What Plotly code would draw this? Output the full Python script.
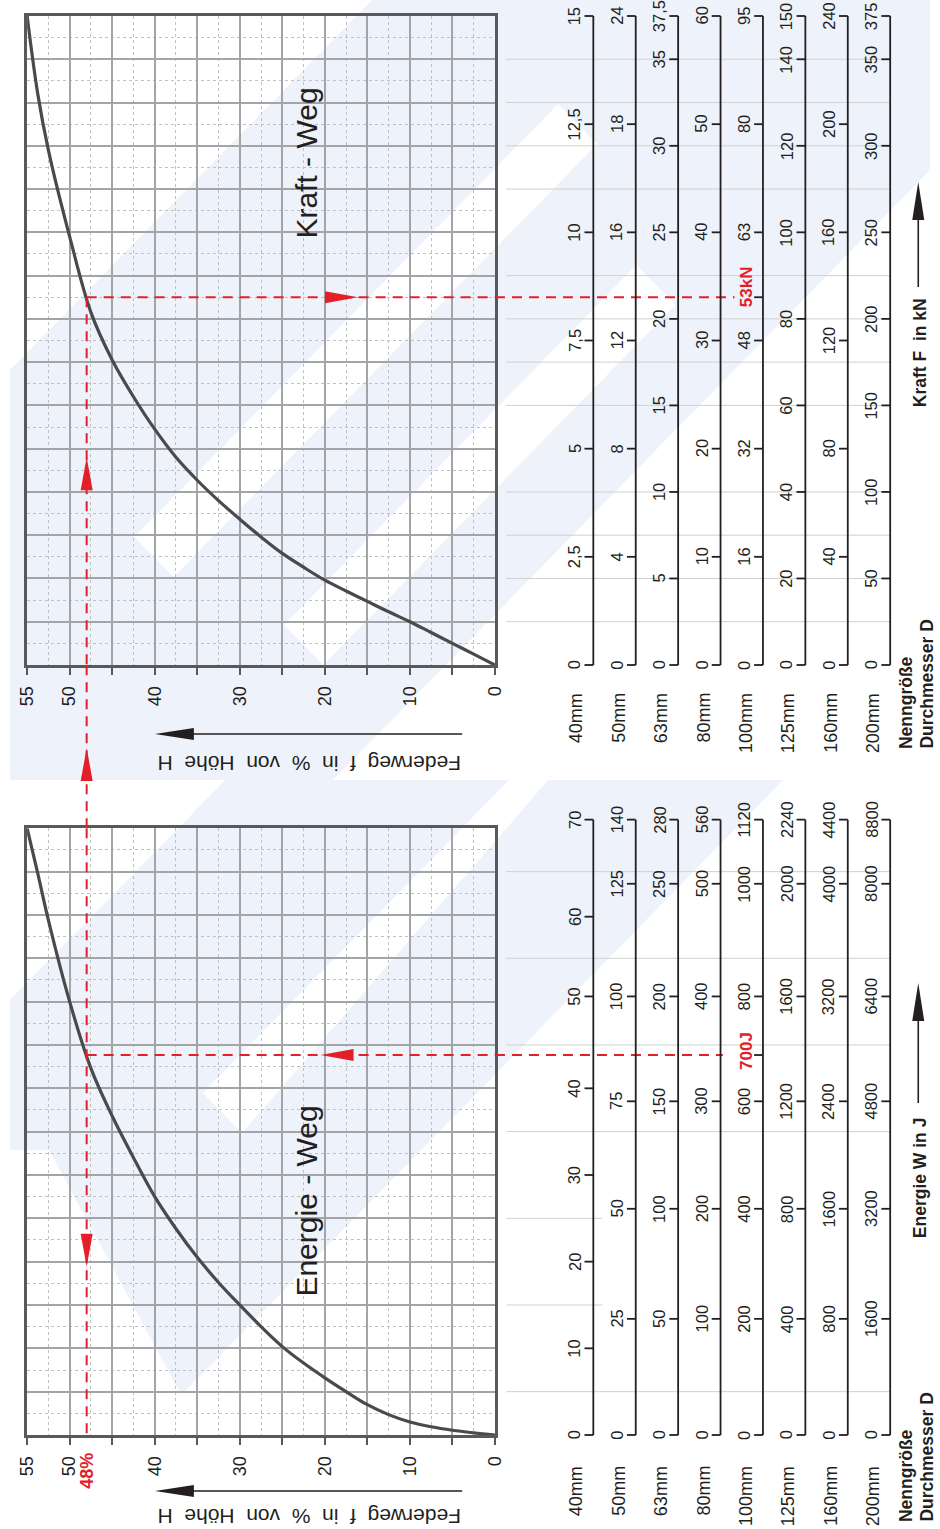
import numpy as np
import plotly.graph_objects as go

# ---------------- data ----------------
# Kraft-Weg curve, force given on the 40mm scale (kN)
weg_kraft = [0, 2.5, 5, 7.5, 10, 12.5, 15, 17.5, 20, 22.5, 25, 27.5, 30, 32.5, 35, 37.5, 40, 42.5, 45, 47.5,
             50, 52.5, 53.75, 55]
kraft_40 = [0, 0.25, 0.5, 0.75, 1.0, 1.23, 1.47, 1.71, 1.96, 2.26, 2.58, 2.96, 3.37, 3.8, 4.27, 4.8, 5.45, 6.2,
            7.05, 8.15, 9.9, 11.9, 13.2, 15.0]

# Energie-Weg curve, energy given on the 40mm scale (J)
weg_energie = [0, 2.5, 5, 7.5, 10, 12.5, 15, 17.5, 20, 22.5, 25, 27.5, 30, 32.5, 35, 37.5, 40, 42.5, 45, 47.5,
               50, 52.5, 53.75, 55]
energie_40 = [0, 0.25, 0.55, 0.95, 1.5, 2.35, 3.5, 5.0, 6.6, 8.3, 10.2, 12.5, 15.0, 17.6, 20.5, 23.8, 27.5,
              32.0, 36.8, 42.3, 50.0, 59.4, 64.8, 70.0]

durchmesser = ["40mm", "50mm", "63mm", "80mm", "100mm", "125mm", "160mm", "200mm"]

weg_ticks = [0, 10, 20, 30, 40, 50, 55]

# force scales: labels and their place expressed in 40mm-equivalent kN
kraft_pos_a = [0, 2.5, 5, 7.5, 10, 12.5, 15]
kraft_pos_b = [0, 2, 4, 6, 8, 10, 12, 14, 15]
kraft_lbl_40 = ["0", "2,5", "5", "7,5", "10", "12,5", "15"]
kraft_lbl_50 = ["0", "4", "8", "12", "16", "18", "24"]
kraft_lbl_63 = ["0", "5", "10", "15", "20", "25", "30", "35", "37,5"]
kraft_lbl_80 = ["0", "10", "20", "30", "40", "50", "60"]
kraft_lbl_100 = ["0", "16", "32", "48", "63", "80", "95"]
kraft_lbl_125 = ["0", "20", "40", "60", "80", "100", "120", "140", "150"]
kraft_lbl_160 = ["0", "40", "80", "120", "160", "200", "240"]
kraft_lbl_200 = ["0", "50", "100", "150", "200", "250", "300", "350", "375"]

# energy scales: labels and their place expressed in 40mm-equivalent J
energie_pos_40 = [0, 10, 20, 30, 40, 50.6, 59.8, 71.0]
energie_pos_std = [0, 13.4, 26.1, 38.5, 50.6, 63.6, 71.0]
energie_lbl_40 = ["0", "10", "20", "30", "40", "50", "60", "70"]
energie_lbl_50 = ["0", "25", "50", "75", "100", "125", "140"]
energie_lbl_63 = ["0", "50", "100", "150", "200", "250", "280"]
energie_lbl_80 = ["0", "100", "200", "300", "400", "500", "560"]
energie_lbl_100 = ["0", "200", "400", "600", "800", "1000", "1120"]
energie_lbl_125 = ["0", "400", "800", "1200", "1600", "2000", "2240"]
energie_lbl_160 = ["0", "800", "1600", "2400", "3200", "4000", "4400"]
energie_lbl_200 = ["0", "1600", "3200", "4800", "6400", "8000", "8800"]

kraft_hilfslinien = [1, 2, 3, 4, 6, 7, 8, 9, 11, 12, 13, 14]
energie_hilfslinien_lang = [5, 35, 45, 55, 65]
energie_hilfslinien_kurz = [15, 25]

beispiel_weg = 48
beispiel_durchmesser = "100mm"
beispiel_kraft_text = "53kN"
beispiel_energie_text = "700J"

kraft_scales = [(kraft_lbl_40, kraft_pos_a), (kraft_lbl_50, kraft_pos_a), (kraft_lbl_63, kraft_pos_b),
                (kraft_lbl_80, kraft_pos_a), (kraft_lbl_100, kraft_pos_a), (kraft_lbl_125, kraft_pos_b),
                (kraft_lbl_160, kraft_pos_a), (kraft_lbl_200, kraft_pos_b)]
energie_scales = [(energie_lbl_40, energie_pos_40), (energie_lbl_50, energie_pos_std),
                  (energie_lbl_63, energie_pos_std), (energie_lbl_80, energie_pos_std),
                  (energie_lbl_100, energie_pos_std), (energie_lbl_125, energie_pos_std),
                  (energie_lbl_160, energie_pos_std), (energie_lbl_200, energie_pos_std)]

# ---------------- layout geometry (pixels) ----------------
W, H = 940, 1529
FR_L, FR_R = 17.5, 495.5
K_T, K_B = 16.0, 665.0
E_T, E_B = 828.3, 1435.0
COL0, COLW = 596.0, 43.33
KPX = (K_B - K_T) / 15.0
EPX = (E_B - E_T) / 70.0
TICK = 9.0


def fx(p):
    return p / W


def fy(p):
    return 1 - p / H


def ci(p):  # pixel x -> column index on the scale axis
    return (p - COL0) / COLW


FONT = "Liberation Sans, Arial, Helvetica, sans-serif"
INK = "#231f20"
FRAME = "#58595b"
CURVE = "#4a4a4d"
RED = "#e3202a"
WM = "#eef2fa"
DASH = "10px,7px"

fig = go.Figure()

# ---------------- watermark (decorative background) ----------------
watermark = [
    [(0, 370), (370, 0), (940, 0), (940, 170), (330, 780), (0, 780)],
    [(0, 1000), (220, 780), (790, 780), (175, 1395), (40, 1150), (0, 1150)],
]
white_bands = [
    [(127, 537), (560, 104), (600, 144), (167, 577)],
    [(280, 625), (640, 265), (680, 305), (320, 665)],
    [(197, 1093), (510, 780), (550, 780), (237, 1133)],
]


def poly(pts):
    return "M " + " L ".join(f"{fx(x):.5f},{fy(y):.5f}" for x, y in pts) + " Z"


for pts in watermark:
    fig.add_shape(type="path", xref="paper", yref="paper", path=poly(pts),
                  fillcolor=WM, line_width=0, layer="below")
for pts in white_bands:
    fig.add_shape(type="path", xref="paper", yref="paper", path=poly(pts),
                  fillcolor="white", line_width=0, layer="below")

# ---------------- curves ----------------
fig.add_trace(go.Scatter(x=weg_kraft, y=kraft_40, xaxis="x", yaxis="y", mode="lines",
                         line=dict(color=CURVE, width=3.2, shape="spline", smoothing=1.0),
                         hoverinfo="skip", showlegend=False))
fig.add_trace(go.Scatter(x=weg_energie, y=energie_40, xaxis="x2", yaxis="y2", mode="lines",
                         line=dict(color=CURVE, width=3.2, shape="spline", smoothing=1.0),
                         hoverinfo="skip", showlegend=False))

k_bsp = float(np.interp(beispiel_weg, weg_kraft, kraft_40))
e_bsp = float(np.interp(beispiel_weg, weg_energie, energie_40))
bsp_idx = durchmesser.index(beispiel_durchmesser)

red_line = dict(color=RED, width=2, dash=DASH)
fig.add_trace(go.Scatter(x=[beispiel_weg, beispiel_weg, None, beispiel_weg, 0],
                         y=[k_bsp, 0, None, k_bsp, k_bsp], xaxis="x", yaxis="y",
                         mode="lines", line=red_line, hoverinfo="skip", showlegend=False))
fig.add_trace(go.Scatter(x=[beispiel_weg, beispiel_weg, None, beispiel_weg, 0],
                         y=[70, 0, None, e_bsp, e_bsp], xaxis="x2", yaxis="y2",
                         mode="lines", line=red_line, hoverinfo="skip", showlegend=False))
fig.add_shape(type="line", xref="x", yref="paper", x0=beispiel_weg, x1=beispiel_weg,
              y0=fy(E_T), y1=fy(K_B), line=red_line)

# ---------------- helper lines in the scale area ----------------
hl = dict(color="#cfd0d3", width=1)
xs, ys = [], []
for v in kraft_hilfslinien:
    xs += [ci(507), 7, None]
    ys += [v, v, None]
fig.add_trace(go.Scatter(x=xs, y=ys, xaxis="x3", yaxis="y3", mode="lines", line=hl,
                         hoverinfo="skip", showlegend=False))
xs, ys = [], []
for v in energie_hilfslinien_lang:
    xs += [ci(507), 7, None]
    ys += [v, v, None]
for v in energie_hilfslinien_kurz:
    xs += [ci(507), ci(605), None]
    ys += [v, v, None]
fig.add_trace(go.Scatter(x=xs, y=ys, xaxis="x3", yaxis="y4", mode="lines", line=hl,
                         hoverinfo="skip", showlegend=False))

# red horizontal continuation to the example scale
fig.add_trace(go.Scatter(x=[ci(FR_R), bsp_idx - 29 / COLW], y=[k_bsp, k_bsp], xaxis="x3", yaxis="y3",
                         mode="lines", line=red_line, hoverinfo="skip", showlegend=False))
fig.add_trace(go.Scatter(x=[ci(FR_R), bsp_idx - 41 / COLW], y=[e_bsp, e_bsp], xaxis="x3", yaxis="y4",
                         mode="lines", line=red_line, hoverinfo="skip", showlegend=False))

# ---------------- scales ----------------
annotations = []
tl = TICK / COLW


def add_scale(scales, yaxis, extra_val, dia_shift):
    for i, (lbls, pos) in enumerate(scales):
        xs = [i, i, None]
        ys = [0, max(pos), None]
        tick_vals = list(pos) + ([extra_val] if i == bsp_idx else [])
        for v in tick_vals:
            xs += [i - tl, i, None]
            ys += [v, v, None]
        fig.add_trace(go.Scatter(x=xs, y=ys, xaxis="x3", yaxis=yaxis, mode="lines",
                                 line=dict(color=INK, width=1.8), hoverinfo="skip", showlegend=False))
        for t, v in zip(lbls, pos):
            annotations.append(dict(text=t, x=i, y=v, xref="x3", yref=yaxis, showarrow=False,
                                    textangle=-90, xanchor="right", yanchor="middle",
                                    xshift=-TICK, borderpad=0,
                                    font=dict(family=FONT, size=16.5, color=INK)))
        annotations.append(dict(text=durchmesser[i], x=i, y=0, xref="x3", yref=yaxis, showarrow=False,
                                textangle=-90, xanchor="center", yanchor="top", xshift=-17,
                                yshift=dia_shift, borderpad=0,
                                font=dict(family=FONT, size=18, color=INK)))


add_scale(kraft_scales, "y3", k_bsp, -27)
add_scale(energie_scales, "y4", e_bsp, -30)

annotations.append(dict(text="<b>" + beispiel_kraft_text + "</b>", x=bsp_idx, y=k_bsp, xref="x3", yref="y3",
                        showarrow=False, textangle=-90, xanchor="center", yanchor="middle",
                        xshift=-17, yshift=11, borderpad=0, font=dict(family=FONT, size=17, color=RED)))
annotations.append(dict(text="<b>" + beispiel_energie_text + "</b>", x=bsp_idx, y=e_bsp, xref="x3", yref="y4",
                        showarrow=False, textangle=-90, xanchor="center", yanchor="middle",
                        xshift=-17, yshift=4, borderpad=0, font=dict(family=FONT, size=17, color=RED)))
annotations.append(dict(text="<b>%d%%</b>" % beispiel_weg, x=beispiel_weg, y=fy(1452), xref="x2", yref="paper",
                        showarrow=False, textangle=-90, xanchor="center", yanchor="top", borderpad=0,
                        font=dict(family=FONT, size=18, color=RED)))


def paper_text(text, x, y, size, angle=-90, xanchor="center", yanchor="middle"):
    annotations.append(dict(text=text, x=fx(x), y=fy(y), xref="paper", yref="paper", showarrow=False,
                            textangle=angle, xanchor=xanchor, yanchor=yanchor, borderpad=0,
                            font=dict(family=FONT, size=size, color=INK)))


paper_text("Kraft - Weg", 302, 163, 30)
paper_text("Energie - Weg", 302, 1201, 30)
fw = "Federweg\u00a0\u00a0f\u00a0\u00a0in\u00a0\u00a0%\u00a0\u00a0von\u00a0\u00a0Höhe\u00a0\u00a0H"
for yy in (764, 1517):
    paper_text(fw, 306, yy, 21, angle=180)
for base in (750, 1523):
    paper_text("<b>Nenngröße</b>", 915, base, 17.5, yanchor="bottom")
    paper_text("<b>Durchmesser D</b>", 936, base, 17.5, yanchor="bottom")
paper_text("<b>Kraft F\u00a0\u00a0in kN</b>", 930, 353, 17.5)
paper_text("<b>Energie W in J</b>", 930, 1178, 17.5)

# black arrows (decorative)
for yy in (734, 1491):
    fig.add_shape(type="line", xref="paper", yref="paper", x0=fx(462), x1=fx(185), y0=fy(yy), y1=fy(yy),
                  line=dict(color=INK, width=1.6))
    fig.add_shape(type="path", xref="paper", yref="paper", xsizemode="pixel", ysizemode="pixel",
                  xanchor=fx(148), yanchor=fy(yy), path="M0,0 L39,6 L39,-6 Z", fillcolor=INK, line_width=0)
for y_low, y_tip in ((287, 182), (1103, 983)):
    fig.add_shape(type="line", xref="paper", yref="paper", x0=fx(928), x1=fx(928), y0=fy(y_low), y1=fy(y_tip + 36),
                  line=dict(color=INK, width=1.6))
    fig.add_shape(type="path", xref="paper", yref="paper", xsizemode="pixel", ysizemode="pixel",
                  xanchor=fx(928), yanchor=fy(y_tip), path="M0,0 L-6,-38 L6,-38 Z", fillcolor=INK, line_width=0)


# red arrow heads on the example path
def red_head(xref, yref, xa, ya, path):
    fig.add_shape(type="path", xref=xref, yref=yref, xsizemode="pixel", ysizemode="pixel",
                  xanchor=xa, yanchor=ya, path=path, fillcolor=RED, line_width=0)


red_head("x", "y", 16.1, k_bsp, "M0,0 L-33,6 L-33,-6 Z")
red_head("x", "y", beispiel_weg, 4.8, "M0,0 L-6,-33 L6,-33 Z")
red_head("x", "paper", beispiel_weg, fy(748), "M0,0 L-6,-33 L6,-33 Z")
red_head("x2", "y2", 20.5, e_bsp, "M0,0 L33,6 L33,-6 Z")
red_head("x2", "y2", beispiel_weg, 19.4, "M0,0 L-6,33 L6,33 Z")

# ---------------- axes ----------------
tickvals = list(range(0, 56, 5))
ticktext = [str(v) if v in weg_ticks else "" for v in tickvals]
xcommon = dict(range=[55, 0], showline=True, mirror=True, linecolor=FRAME, linewidth=3,
               showgrid=True, gridcolor="#a2a4a8", gridwidth=1.6, zeroline=False,
               tickmode="array", tickvals=tickvals, ticktext=ticktext, tickangle=-90,
               ticks="outside", ticklen=7, tickcolor=FRAME, tickwidth=1.5, ticklabelstandoff=4,
               ticklabeloverflow="allow",
               tickfont=dict(family=FONT, size=18, color=INK),
               minor=dict(tickmode="linear", tick0=0, dtick=2.5, showgrid=True, gridcolor="#bfc1c5",
                          griddash="dot", gridwidth=1, ticks=""),
               domain=[fx(FR_L), fx(FR_R)], fixedrange=True)
ycommon = dict(showline=True, mirror=True, linecolor=FRAME, linewidth=3, showgrid=True,
               gridcolor="#a2a4a8", gridwidth=1.6, zeroline=False, showticklabels=False, ticks="",
               fixedrange=True)

# The figure size comes from its container (placed at the page's top-left corner, free of
# the default body margin).
fig.update_layout(
    margin=dict(l=0, r=0, t=0, b=0, pad=0),
    paper_bgcolor="white", plot_bgcolor="rgba(0,0,0,0)", showlegend=False,
    xaxis=dict(xcommon, anchor="y"),
    yaxis=dict(ycommon, anchor="x", range=[0, 15], dtick=1, tick0=0,
               minor=dict(tick0=0, dtick=0.5, showgrid=True, gridcolor="#bfc1c5", griddash="dot", gridwidth=1),
               domain=[fy(K_B), fy(K_T)]),
    xaxis2=dict(xcommon, anchor="y2"),
    yaxis2=dict(ycommon, anchor="x2", range=[0, 70], dtick=5, tick0=0,
                minor=dict(tick0=0, dtick=2.5, showgrid=True, gridcolor="#bfc1c5", griddash="dot", gridwidth=1),
                domain=[fy(E_B), fy(E_T)]),
    xaxis3=dict(domain=[0, 1], range=[ci(0), ci(W)], visible=False, anchor="y3", fixedrange=True),
    yaxis3=dict(domain=[0, 1], range=[(K_B - H) / KPX, K_B / KPX], visible=False, anchor="x3", fixedrange=True),
    yaxis4=dict(domain=[0, 1], range=[(E_B - H) / EPX, E_B / EPX], visible=False, anchor="x3",
                overlaying="y3", fixedrange=True),
    annotations=annotations,
)

fig.write_html("out.html", config={"displayModeBar": False, "responsive": False},
               default_width="%dpx;position:absolute;left:0;top:0;margin:0" % W,
               default_height="%dpx" % H)
